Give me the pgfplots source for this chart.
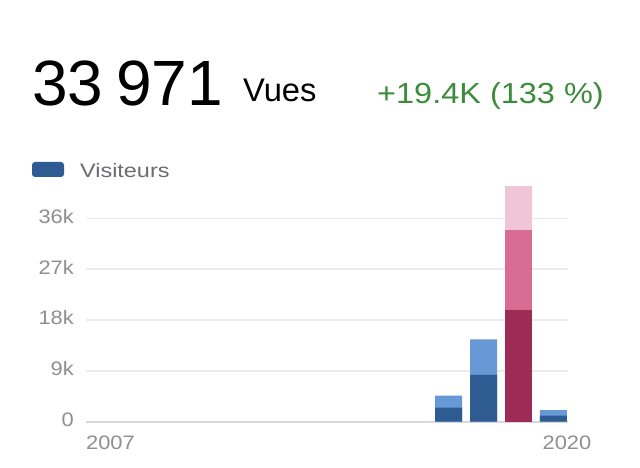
\documentclass[border=0pt]{standalone}
\usepackage{fontspec}
\setmainfont{Liberation Sans}
\newfontfamily\wide[FakeStretch=1.12]{Liberation Sans}
\newfontfamily\wider[FakeStretch=1.2]{Liberation Sans}
\usepackage{pgfplots}
\pgfplotsset{compat=1.18}
\definecolor{dblue}{HTML}{2E5B91}
\definecolor{lblue}{HTML}{6699D5}
\definecolor{crimson}{HTML}{9C2C56}
\definecolor{mpink}{HTML}{D96C93}
\definecolor{lpink}{HTML}{F0C6D6}
\definecolor{vgreen}{HTML}{3C8C3C}
\definecolor{tickc}{HTML}{8E8E93}
\definecolor{legc}{HTML}{6B6B70}
\definecolor{gridc}{HTML}{EBEBED}
\definecolor{basec}{HTML}{D8D8DA}
\begin{document}
\begin{tikzpicture}[x=1pt,y=1pt]
\path[use as bounding box] (0,0) rectangle (640,468);
\node[anchor=base west, inner sep=0, font=\fontsize{64}{64}\selectfont] at (32,362) {33\hspace{0.2em}971};
\node[anchor=base west, inner sep=0, font=\fontsize{32.7}{33}\selectfont] at (243,366.3) {Vues};
\node[anchor=base west, inner sep=0, text=vgreen, font=\wide\fontsize{29}{29}\selectfont] at (377,364.7) {+19.4K (133 \%)};
\fill[dblue, rounded corners=3pt] (32,291) rectangle (64,306);
\node[anchor=base west, inner sep=0, text=legc, font=\wider\fontsize{19.5}{20}\selectfont] at (80,290.7) {Visiteurs};
\node[anchor=base west, inner sep=0, text=tickc, font=\wide\fontsize{19.5}{20}\selectfont] at (86,18) {2007};
\node[anchor=base west, inner sep=0, text=tickc, font=\wide\fontsize{19.5}{20}\selectfont] at (542.5,18) {2020};
\begin{axis}[at={(86pt,46.3pt)}, anchor=south west, scale only axis,
  width=482pt, height=237.3pt,
  xmin=-0.39, xmax=13.42, ymin=0, ymax=42000,
  axis line style={draw=none},
  xtick=\empty,
  ytick={0,9000,18000,27000,36000},
  yticklabels={0,9k,18k,27k,36k},
  scaled y ticks=false,
  ymajorgrids, grid style={color=gridc, line width=1.5pt},
  major tick length=0pt,
  yticklabel style={anchor=east, inner sep=0pt, xshift=-12pt, yshift=2pt, text=tickc, font=\wide\fontsize{19.5}{20}\selectfont},
  clip=false,
  ybar, bar width=27pt, bar shift=0pt]
\draw[basec, line width=2pt] (axis cs:-0.39,0) -- (axis cs:13.42,0);
\addplot[fill=lpink, draw=none, bar shift=0pt] coordinates {(12,41700)};
\addplot[fill=lblue, draw=none, bar shift=0pt] coordinates {(10,4600)(11,14580)(13,2070)};
\addplot[fill=mpink, draw=none, bar shift=0pt] coordinates {(12,33971)};
\addplot[fill=dblue, draw=none, bar shift=0pt] coordinates {(10,2480)(11,8270)(13,1060)};
\addplot[fill=crimson, draw=none, bar shift=0pt] coordinates {(12,19770)};
\end{axis}
\end{tikzpicture}
\end{document}
